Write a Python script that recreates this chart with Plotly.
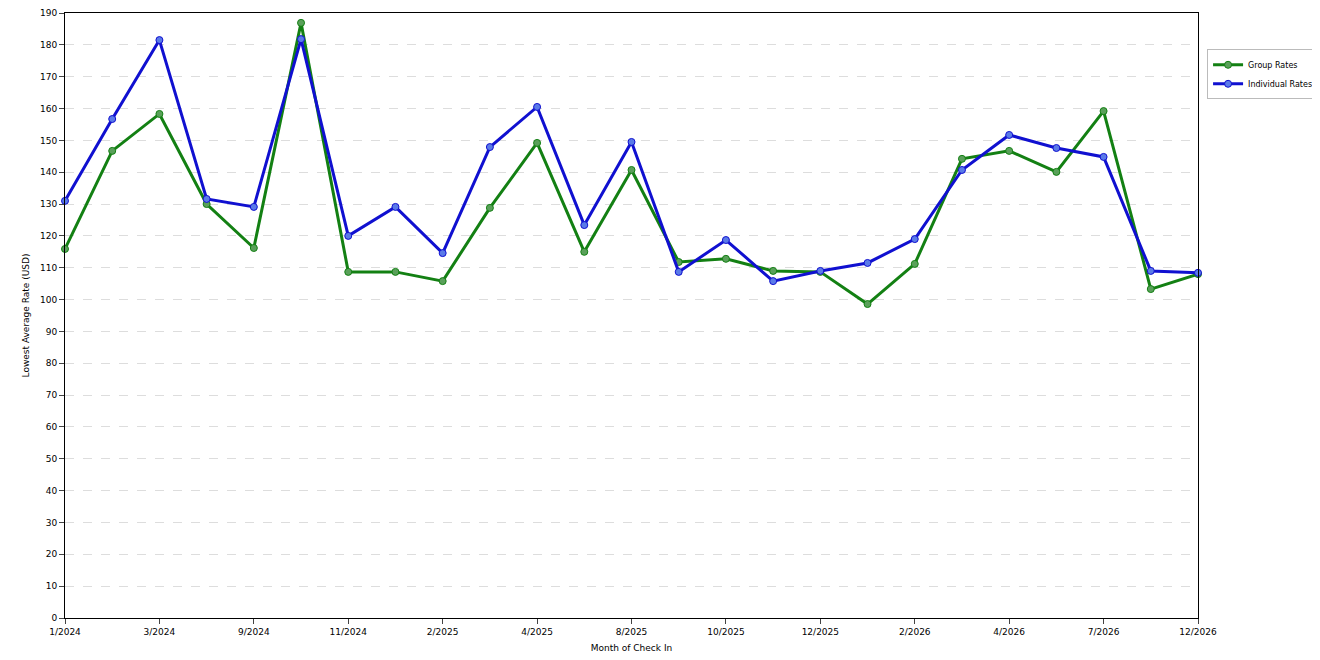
import plotly.graph_objects as go

tick_labels = ["1/2024","","3/2024","","9/2024","","11/2024","","2/2025","","4/2025","","8/2025","",
               "10/2025","","12/2025","","2/2026","","4/2026","","7/2026","","12/2026"]
group_rates = [115.9,146.7,158.3,130,116.2,186.9,108.7,108.7,105.8,128.8,149.2,115,140.7,111.8,112.8,
               109,108.7,98.6,111.2,144.2,146.7,140.1,159.2,103.3,108]
indiv_rates = [131,156.7,181.5,131.6,129.1,181.8,120,129.1,114.6,147.9,160.5,123.4,149.5,108.7,118.7,
               105.8,109,111.5,119,140.7,151.7,147.6,144.8,109,108.4]
x = list(range(len(tick_labels)))

fig = go.Figure()
fig.add_trace(go.Scatter(x=x, y=group_rates, name="Group Rates", mode="lines+markers",
    line=dict(color="#138013", width=3), cliponaxis=False,
    marker=dict(size=7, color="#5aa05a", line=dict(color="#138013", width=1))))
fig.add_trace(go.Scatter(x=x, y=indiv_rates, name="Individual Rates", mode="lines+markers",
    line=dict(color="#1010d0", width=3), cliponaxis=False,
    marker=dict(size=7, color="#5a7ae8", line=dict(color="#1010d0", width=1))))

fig.update_layout(
    width=1320, height=660, margin=dict(l=57, r=130, t=5, b=50, autoexpand=False),
    plot_bgcolor="white", paper_bgcolor="white",
    font=dict(family="DejaVu Sans", size=9, color="black"),
    legend=dict(x=1.008, y=0.94, xanchor="left", yanchor="top", bordercolor="#bbbbbb",
                borderwidth=1, font=dict(size=8), itemwidth=30),
    xaxis=dict(range=[0, 24], tickvals=[i for i in x if i % 2 == 0],
               ticktext=[tick_labels[i] for i in x if i % 2 == 0], automargin=False,
               showgrid=False, showline=True, linecolor="black", mirror=True,
               ticks="outside", ticklen=5, zeroline=False,
               title=dict(text="Month of Check In", font=dict(size=9), standoff=8)),
    yaxis=dict(range=[0, 190], dtick=10, showgrid=True, gridcolor="#dddddd", griddash="dash",
               showline=True, linecolor="black", mirror=True, ticks="outside", ticklen=5,
               zeroline=False, automargin=False,
               title=dict(text="Lowest Average Rate (USD)", font=dict(size=9), standoff=8)),
)
fig.write_html("out.html")
